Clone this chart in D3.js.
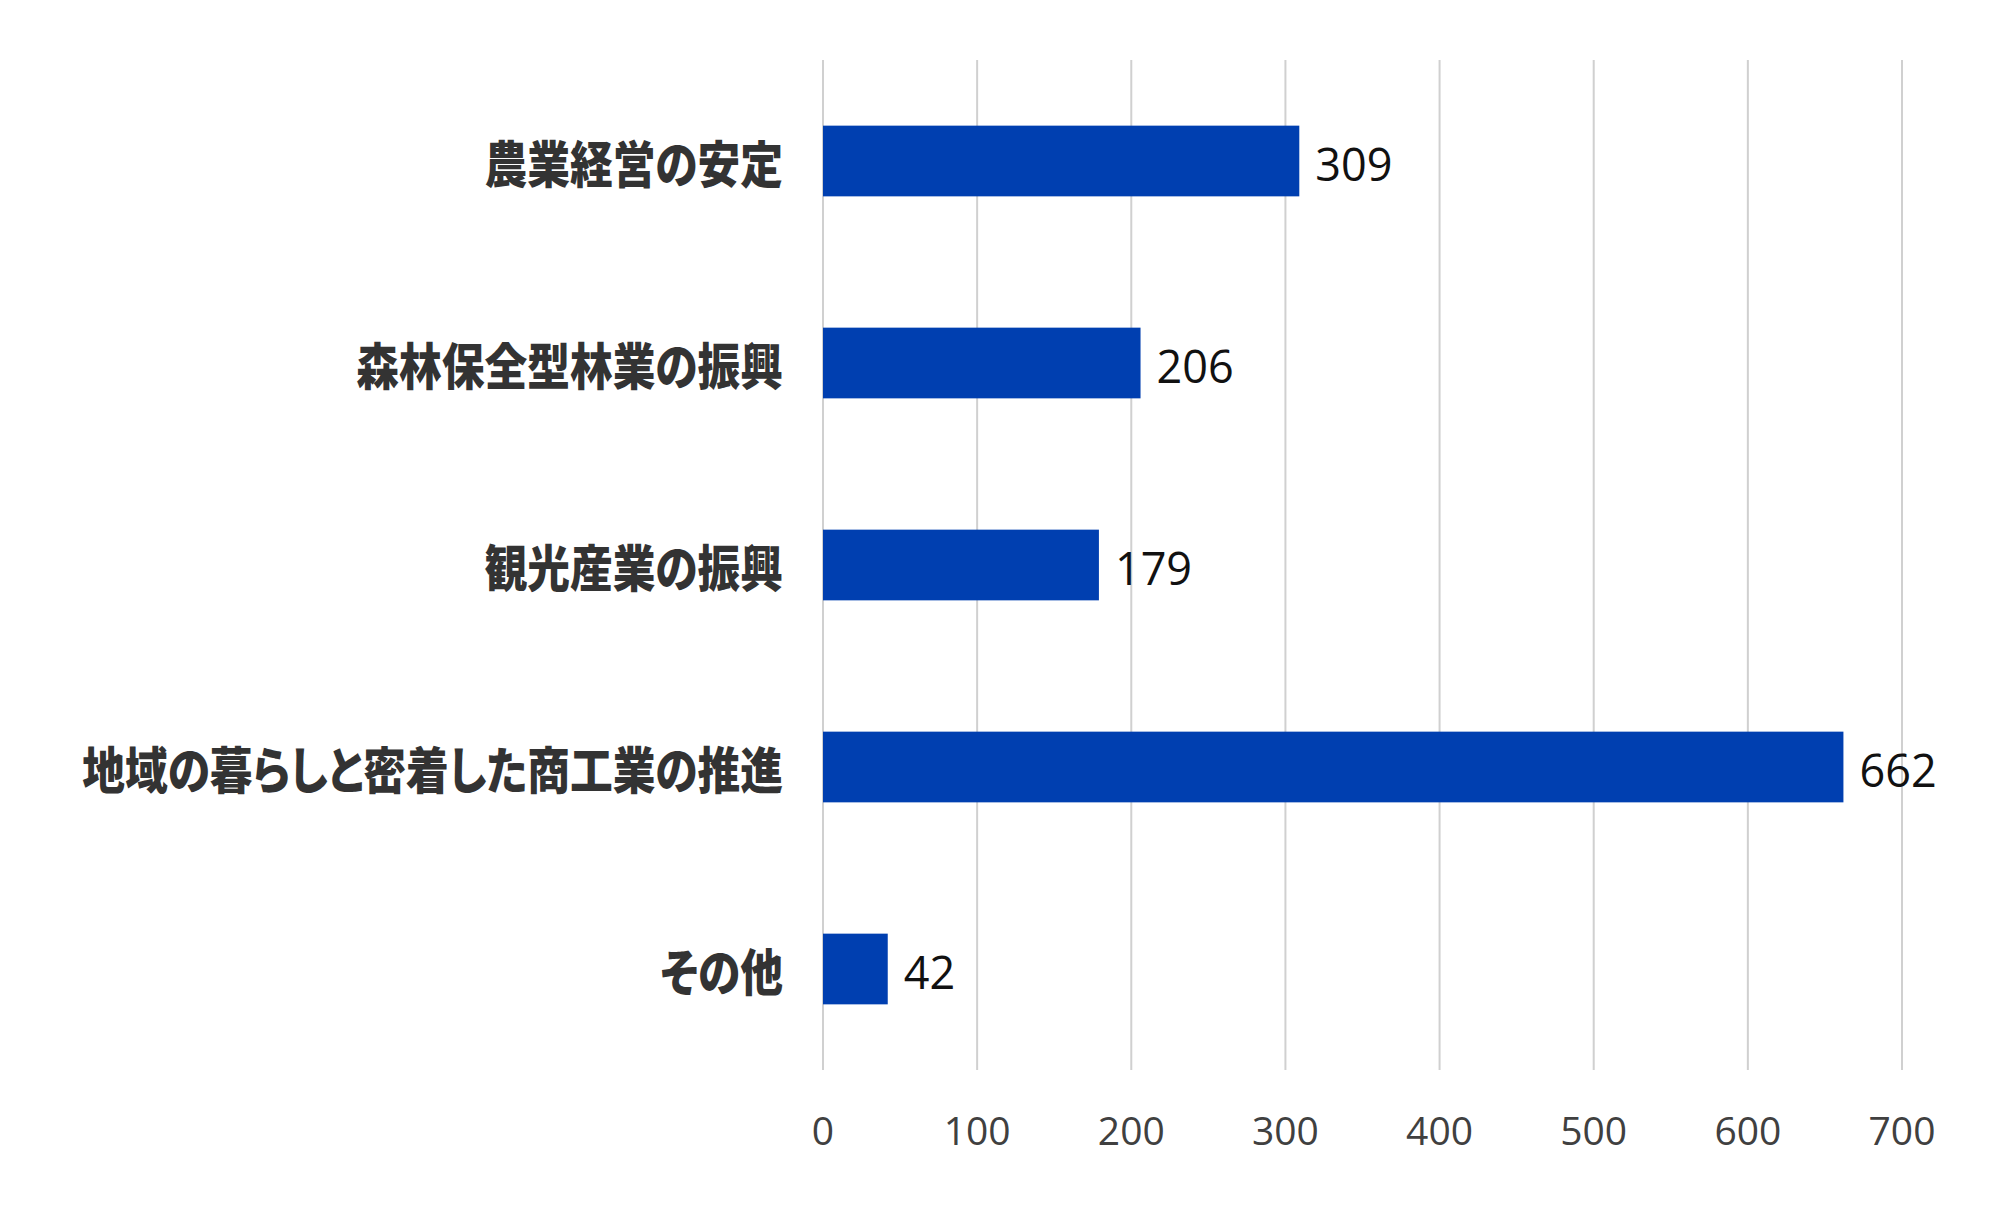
<!DOCTYPE html>
<html lang="ja">
<head>
<meta charset="UTF-8">
<title>bar chart</title>
<script src="https://d3js.org/d3.v7.min.js"></script>
<style>
    body { margin: 0; background: #fff; }
    svg { display: block; }
    .cat { font-family: "Noto Sans CJK JP", sans-serif; font-weight: 900; font-size: 50px; fill: #333; font-feature-settings: "palt"; }
    .tick-label { font-family: "Open Sans", sans-serif; font-size: 39px; fill: #404040; }
    .value { font-family: "Open Sans", sans-serif; font-size: 45px; fill: #111; }
</style>
</head>
<body>
<svg width="2000" height="1209"></svg>
<script>
    // データ
    const categories = ["農業経営の安定", "森林保全型林業の振興", "観光産業の振興", "地域の暮らしと密着した商工業の推進", "その他"];
    const values = [309, 206, 179, 662, 42];
    const tickValues = [0, 100, 200, 300, 400, 500, 600, 700];

    const margin = { top: 60, right: 98, bottom: 139, left: 823 };
    const width = 2000, height = 1209;
    const svg = d3.select("svg");

    const x = d3.scaleLinear().domain([0, 700]).range([margin.left, width - margin.right]);
    const y = d3.scaleBand().domain(categories).range([margin.top, height - margin.bottom]).paddingInner(0.65).paddingOuter(0.325);

    // グリッド線
    svg.append("g")
        .selectAll("line")
        .data(tickValues)
        .join("line")
        .attr("x1", d => x(d))
        .attr("x2", d => x(d))
        .attr("y1", margin.top)
        .attr("y2", height - margin.bottom)
        .attr("stroke", "#d0d0d0")
        .attr("stroke-width", 2);

    // 目盛りラベル
    svg.append("g")
        .selectAll("text")
        .data(tickValues)
        .join("text")
        .attr("class", "tick-label")
        .attr("x", d => x(d))
        .attr("y", 1129)
        .attr("text-anchor", "middle")
        .attr("dominant-baseline", "central")
        .text(d => d);

    // 棒
    svg.append("g")
        .selectAll("rect")
        .data(values)
        .join("rect")
        .attr("x", x(0))
        .attr("y", (d, i) => y(categories[i]))
        .attr("width", d => x(d) - x(0))
        .attr("height", y.bandwidth())
        .attr("fill", "#003fb0");

    // 値ラベル
    svg.append("g")
        .selectAll("text")
        .data(values)
        .join("text")
        .attr("class", "value")
        .attr("x", d => x(d) + 16)
        .attr("y", (d, i) => y(categories[i]) + y.bandwidth() / 2 + 2)
        .attr("dominant-baseline", "central")
        .text(d => d);

    // 項目ラベル（縦長の書体に寄せるため横方向を縮める）
    svg.append("g")
        .selectAll("g")
        .data(categories)
        .join("g")
        .attr("transform", d => `translate(${x(0) - 40},${y(d) + y.bandwidth() / 2}) scale(0.855,1)`)
        .append("text")
        .attr("class", "cat")
        .attr("text-anchor", "end")
        .attr("dominant-baseline", "central")
        .text(d => d);
</script>
</body>
</html>
